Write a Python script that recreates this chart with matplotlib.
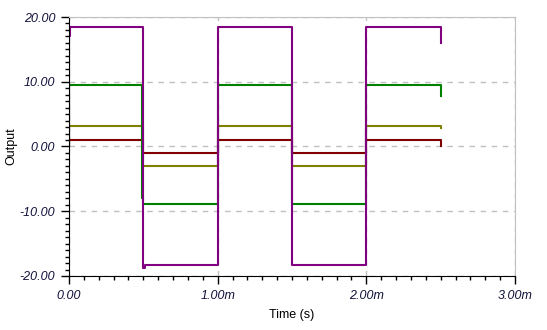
import matplotlib

matplotlib.use("Agg")
import matplotlib.pyplot as plt
from matplotlib.ticker import MultipleLocator, FuncFormatter

# Step-response data (time in seconds, drawn as steps-post)
purple_t = [0, 0, 0.01e-3, 0.5e-3, 0.51e-3, 1.0e-3, 1.5e-3, 2.0e-3, 2.5e-3, 2.5e-3]
purple_v = [0, 17.0, 18.4, -18.8, -18.3, 18.4, -18.3, 18.4, 18.4, 16.0]

green_t = [0, 0, 0.49e-3, 0.5e-3, 1.0e-3, 1.5e-3, 2.0e-3, 2.5e-3, 2.5e-3]
green_v = [0, 9.5, -7.9, -8.9, 9.5, -8.9, 9.5, 9.5, 7.8]

olive_t = [0, 0, 0.5e-3, 1.0e-3, 1.5e-3, 2.0e-3, 2.5e-3, 2.5e-3]
olive_v = [0, 3.2, -3.0, 3.2, -3.0, 3.2, 3.2, 2.8]

red_t = [0, 0, 0.5e-3, 1.0e-3, 1.5e-3, 2.0e-3, 2.5e-3, 2.5e-3]
red_v = [0, 1.0, -1.0, 1.0, -1.0, 1.0, 1.0, 0.1]

series = [
    (purple_t, purple_v, "#800080"),
    (green_t, green_v, "#008000"),
    (olive_t, olive_v, "#808000"),
    (red_t, red_v, "#800000"),
]

plt.rcParams["font.family"] = ["Liberation Sans", "DejaVu Sans"]

fig = plt.figure(figsize=(5.47, 3.30), dpi=100)
ax = fig.add_axes([69 / 547, 1 - 276 / 330, 446 / 547, 259 / 330])

for t, v, c in reversed(series):
    ax.plot(t, v, drawstyle="steps-post", color=c, lw=1.5)

ax.set_xlim(0, 3e-3)
ax.set_ylim(-20, 20)

ax.xaxis.set_major_locator(MultipleLocator(1e-3))
ax.xaxis.set_minor_locator(MultipleLocator(0.1e-3))
ax.yaxis.set_major_locator(MultipleLocator(10))
ax.yaxis.set_minor_locator(MultipleLocator(1))


def fmt_x(x, pos):
    if abs(x) < 1e-12:
        return "0.00"
    return f"{x * 1e3:.2f}m"


ax.xaxis.set_major_formatter(FuncFormatter(fmt_x))
ax.yaxis.set_major_formatter(FuncFormatter(lambda y, pos: f"{y:.2f}"))

ax.tick_params(which="major", direction="out", length=6, width=1, color="black",
               labelsize=9, labelcolor="#10103a", pad=4)
ax.tick_params(which="minor", direction="out", length=3, width=1, color="black")
for lab in ax.get_xticklabels() + ax.get_yticklabels():
    lab.set_fontstyle("italic")

ax.grid(True, which="major", linestyle=(0, (4, 4)), color="#c0c0c0", lw=1)
ax.set_axisbelow(True)

ax.spines["left"].set_color("black")
ax.spines["bottom"].set_color("black")
ax.spines["top"].set_color("#c0c0c0")
ax.spines["right"].set_color("#c0c0c0")

ax.set_xlabel("Time (s)", fontsize=9)
ax.set_ylabel("Output", fontsize=9)
ax.xaxis.set_label_coords(0.5, -(309 - 276) / 259)
ax.yaxis.set_label_coords(-(69 - 17) / 446, 0.5)

fig.savefig("out.png", dpi=100)
